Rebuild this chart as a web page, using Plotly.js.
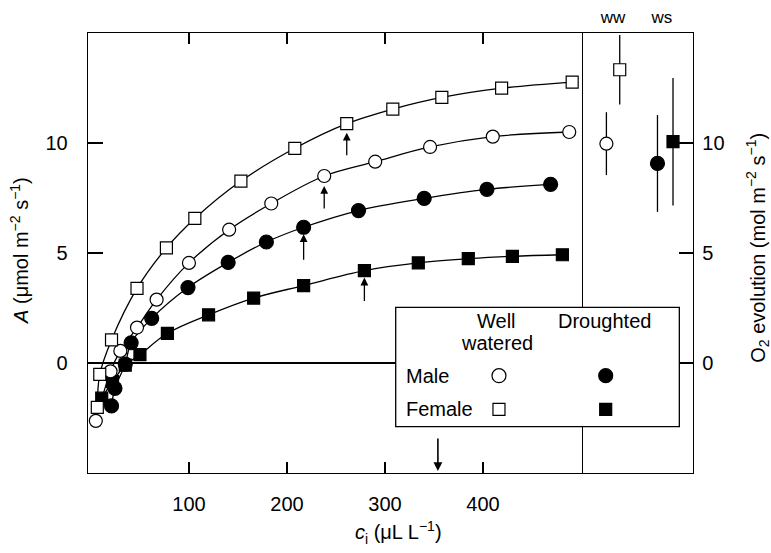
<!DOCTYPE html>
<html>
<head>
<meta charset="utf-8">
<script src="https://cdn.plot.ly/plotly-3.0.1.min.js"></script>
<style>html,body{margin:0;padding:0;background:#fff;}#chart{width:771px;height:553px;}</style>
</head>
<body>
<div id="chart"></div>
<script>
// ---- Data ----
// Main panel: net assimilation A vs intercellular CO2 (ci)
const ciFemaleWW = [6.5, 9, 21, 47, 77, 106, 153, 208, 261, 308, 358, 419, 491];
const aFemaleWW  = [-2.02, -0.52, 1.05, 3.39, 5.23, 6.57, 8.27, 9.76, 10.88, 11.54, 12.07, 12.49, 12.77];

const ciMaleWW = [5, 20, 30, 47, 67, 100, 141, 184, 238, 290, 346, 410, 488];
const aMaleWW  = [-2.63, -0.38, 0.55, 1.61, 2.88, 4.55, 6.06, 7.25, 8.50, 9.15, 9.82, 10.29, 10.50];

const ciMaleDr = [21, 24.5, 35, 41, 62, 99, 140, 179, 217, 273, 340, 404, 469];
const aMaleDr  = [-1.95, -1.15, -0.05, 0.92, 2.03, 3.43, 4.57, 5.50, 6.17, 6.93, 7.48, 7.89, 8.12];

const ciFemaleDr = [11, 22, 35, 50, 78, 120, 166, 217, 279, 334, 385, 430, 481];
const aFemaleDr  = [-1.6, -0.85, -0.1, 0.38, 1.35, 2.19, 2.95, 3.52, 4.20, 4.55, 4.74, 4.85, 4.92];

// index of the point at the operating ci (marked by an arrow)
const opIndexFemaleWW = 8, opIndexMaleWW = 8, opIndexMaleDr = 8, opIndexFemaleDr = 8;
const ambientCa = 354;

// Right panel: O2 evolution
const panelGroups = ['ww', 'ws'];
const panelGroupPos = [2.8, 7.2];
const panelPos = [2.2, 3.4, 6.8, 8.2];        // male ww, female ww, male ws, female ws
const o2Mean = [9.97, 13.33, 9.07, 10.06];
const o2Err  = [1.43, 1.58, 2.2, 2.9];

// Tick labels
const xTicks = [100, 200, 300, 400];
const yTicks = [0, 5, 10];

// ---- Styles ----
const FONT = 'Liberation Sans, Arial, Helvetica, sans-serif';
const LW = 1.3;
function series(x, y, symbol, fill, size) {
  return {
    x: x, y: y, xaxis: 'x', yaxis: 'y', type: 'scatter', mode: 'lines+markers',
    line: {color: 'black', width: LW, shape: 'spline', smoothing: 1},
    marker: {symbol: symbol, size: size, color: fill, opacity: 1, line: {color: 'black', width: 1.2}},
    hoverinfo: 'skip', cliponaxis: false
  };
}

const traces = [
  series(ciFemaleDr, aFemaleDr, 'square', 'black', 12),
  series(ciMaleDr, aMaleDr, 'circle', 'black', 14),
  series(ciMaleWW, aMaleWW, 'circle', 'white', 13),
  series(ciFemaleWW, aFemaleWW, 'square', 'white', 12),
  {
    x: panelPos, y: o2Mean, xaxis: 'x2', yaxis: 'y2', type: 'scatter', mode: 'markers',
    error_y: {type: 'data', array: o2Err, visible: true, width: 0, thickness: 1.3, color: 'black'},
    marker: {symbol: ['circle', 'square', 'circle', 'square'], size: [13, 12, 14, 12], opacity: 1,
             color: ['white', 'white', 'black', 'black'], line: {color: 'black', width: 1.2}},
    hoverinfo: 'skip', cliponaxis: false
  }
];

// Arrow annotations at operating points
function opArrow(x, y, ay, standoff) {
  return {x: x, y: y, xref: 'x', yref: 'y', ax: 0, ay: ay, axref: 'pixel', ayref: 'pixel',
          showarrow: true, arrowhead: 2, arrowsize: 1.2, arrowwidth: 1.3, arrowcolor: 'black',
          standoff: standoff, text: ''};
}

// paper-coordinate helpers for legend box
const legendBox = {x0: 0.5086, x1: 0.9774, y0: 0.1052, y1: 0.3766};
const TXT = {family: FONT, size: 20, color: 'black'};

const annotations = [
  opArrow(ciFemaleWW[opIndexFemaleWW], aFemaleWW[opIndexFemaleWW], 33, 9),
  opArrow(ciMaleWW[opIndexMaleWW], aMaleWW[opIndexMaleWW], 34, 10),
  opArrow(ciMaleDr[opIndexMaleDr], aMaleDr[opIndexMaleDr], 34, 7),
  opArrow(ciFemaleDr[opIndexFemaleDr], aFemaleDr[opIndexFemaleDr], 32, 7),
  {x: ambientCa, y: -5, xref: 'x', yref: 'y', ax: 0, ay: -36, axref: 'pixel', ayref: 'pixel',
   showarrow: true, arrowhead: 2, arrowsize: 1.1, arrowwidth: 1.6, arrowcolor: 'black', standoff: 2, text: ''},
  // axis titles
  {xref: 'paper', yref: 'paper', x: -0.1124, y: 0.507, showarrow: false, textangle: -90,
   text: '<i>A</i> (μmol m<sup>−2</sup> s<sup>−1</sup>)', font: TXT, xanchor: 'center', yanchor: 'middle'},
  {xref: 'paper', yref: 'paper', x: 1.1074, y: 0.512, showarrow: false, textangle: -90,
   text: 'O<sub>2</sub> evolution (mol m<sup>−2</sup> s<sup>−1</sup>)', font: TXT, xanchor: 'center', yanchor: 'middle'},
  {xref: 'paper', yref: 'paper', x: 0.514, y: -0.135, showarrow: false,
   text: '<i>c</i><sub>i</sub> (μL L<sup>−1</sup>)', font: TXT, xanchor: 'center', yanchor: 'middle'},
  // legend texts
  {xref: 'paper', yref: 'paper', x: 0.6755, y: 0.3461, showarrow: false, text: 'Well',
   font: TXT, xanchor: 'center', yanchor: 'middle'},
  {xref: 'paper', yref: 'paper', x: 0.6755, y: 0.2948, showarrow: false, text: 'watered',
   font: TXT, xanchor: 'center', yanchor: 'middle'},
  {xref: 'paper', yref: 'paper', x: 0.8529, y: 0.3461, showarrow: false, text: 'Droughted',
   font: TXT, xanchor: 'center', yanchor: 'middle'},
  {xref: 'paper', yref: 'paper', x: 0.5223, y: 0.2205, showarrow: false, text: 'Male',
   font: TXT, xanchor: 'left', yanchor: 'middle'},
  {xref: 'paper', yref: 'paper', x: 0.5223, y: 0.1455, showarrow: false, text: 'Female',
   font: TXT, xanchor: 'left', yanchor: 'middle'}
];

function legendMarker(type, cx, cy, half, fill) {
  return {type: type, xref: 'paper', yref: 'paper', xsizemode: 'pixel', ysizemode: 'pixel',
          xanchor: cx, yanchor: cy, x0: -half, x1: half, y0: -half, y1: half,
          fillcolor: fill, line: {color: 'black', width: 1.2}, layer: 'above'};
}

const shapes = [
  {type: 'rect', xref: 'paper', yref: 'paper', x0: legendBox.x0, x1: legendBox.x1, y0: legendBox.y0, y1: legendBox.y1,
   fillcolor: 'white', line: {color: 'black', width: 1.3}, layer: 'above'},
  legendMarker('circle', 0.6793, 0.2211, 7, 'white'),
  legendMarker('circle', 0.8557, 0.2211, 7, 'black'),
  legendMarker('rect', 0.6793, 0.1448, 6, 'white'),
  legendMarker('rect', 0.8557, 0.1448, 6, 'black')
];

const axisCommon = {showgrid: false, linecolor: 'black', linewidth: 1.3, tickcolor: 'black', tickwidth: 1.3,
                    tickfont: {family: FONT, size: 20, color: 'black'}};

const layout = {
  width: 771, height: 553,
  margin: {l: 88, r: 78, t: 33, b: 80, pad: 0},
  paper_bgcolor: 'white', plot_bgcolor: 'white',
  showlegend: false,
  font: {family: FONT, size: 20, color: 'black'},
  xaxis: Object.assign({}, axisCommon, {
    domain: [0, 0.8165], range: [-3, 501], tickmode: 'array', tickvals: xTicks,
    ticks: 'inside', ticklen: 11, showline: true, mirror: 'ticks', zeroline: false, anchor: 'y',
    ticklabelstandoff: 13
  }),
  yaxis: Object.assign({}, axisCommon, {
    domain: [0, 1], range: [-5, 15], tickmode: 'array', tickvals: yTicks,
    ticks: 'inside', ticklen: 15, showline: true, mirror: true, zeroline: true,
    zerolinecolor: 'black', zerolinewidth: 1.3, anchor: 'x', ticklabelstandoff: 15
  }),
  xaxis2: Object.assign({}, axisCommon, {
    domain: [0.8165, 1], range: [0, 10], anchor: 'y2', side: 'top',
    tickmode: 'array', tickvals: panelGroupPos, ticktext: panelGroups, ticks: '',
    showline: true, mirror: true, zeroline: false,
    tickfont: {family: FONT, size: 17, color: 'black'}, ticklabelstandoff: 2
  }),
  yaxis2: Object.assign({}, axisCommon, {
    domain: [0, 1], range: [-5, 15], anchor: 'x2', side: 'right', tickmode: 'array', tickvals: yTicks,
    ticks: 'inside', ticklen: 14, showline: true, mirror: false, zeroline: false, ticklabelstandoff: 4
  }),
  shapes: shapes,
  annotations: annotations
};

Plotly.newPlot('chart', traces, layout, {staticPlot: true, displayModeBar: false});
</script>
</body>
</html>
